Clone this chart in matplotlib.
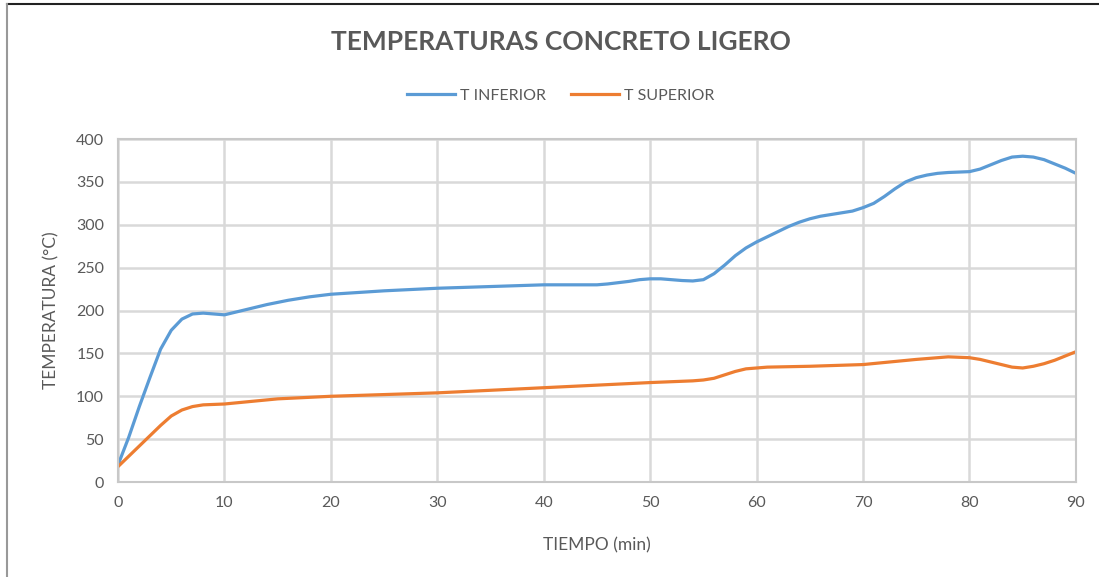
import matplotlib
matplotlib.use("Agg")
import matplotlib.pyplot as plt
from matplotlib.lines import Line2D

# T INFERIOR readings (min, °C)
t_inf = [0, 1, 2, 3, 4, 5, 6, 7, 8, 9, 10, 12, 14, 16, 18, 20, 25, 30, 35, 40,
         45, 46, 47, 48, 49, 50, 51, 52, 53, 54, 55, 56, 57, 58, 59, 60, 61, 62,
         63, 64, 65, 66, 67, 68, 69, 70, 71, 72, 73, 74, 75, 76, 77, 78, 79, 80,
         81, 82, 83, 84, 85, 86, 87, 88, 89, 90]
temp_inf = [20, 52, 88, 122, 155, 177, 190, 196, 197, 196, 195, 201, 207, 212,
            216, 219, 223, 226, 228, 230, 230, 231, 232.5, 234, 236, 237, 237,
            236, 235, 234.5, 236, 243, 253, 264, 273, 280, 286, 292, 298, 303,
            307, 310, 312, 314, 316, 320, 325, 333, 342, 350, 355, 358, 360, 361,
            361.5, 362, 365, 370, 375, 379, 380, 379, 376, 371, 366, 360]

# T SUPERIOR readings (min, °C)
t_sup = [0, 1, 2, 3, 4, 5, 6, 7, 8, 10, 15, 20, 25, 30, 35, 40, 45, 50, 54, 55,
         56, 57, 58, 59, 60, 61, 65, 70, 75, 78, 80, 81, 82, 83, 84, 85, 86, 87,
         88, 89, 90]
temp_sup = [18, 30, 42, 54, 66, 77, 84, 88, 90, 91, 97, 100, 102, 104, 107, 110,
            113, 116, 118, 119, 121, 125, 129, 132, 133, 134, 135, 137, 143, 146,
            145, 143, 140, 137, 134, 133, 135, 138, 142, 147, 152]

x_ticks = list(range(0, 91, 10))
y_ticks = list(range(0, 401, 50))

txt = '#595959'
plt.rcParams['font.family'] = ['Lato', 'DejaVu Sans']

fig = plt.figure(figsize=(10.99, 5.77), dpi=100)
ax = fig.add_axes([0.1074, 0.1646, 0.8716, 0.5944])

ax.plot(t_inf, temp_inf, color='#5b9bd5', lw=2.3, label='T INFERIOR',
        solid_joinstyle='round')
ax.plot(t_sup, temp_sup, color='#ed7d31', lw=2.3, label='T SUPERIOR',
        solid_joinstyle='round')

ax.set_xlim(0, 90)
ax.set_ylim(0, 400)
ax.set_xticks(x_ticks)
ax.set_yticks(y_ticks)
ax.grid(True, color='#d9d9d9', lw=1.8)
ax.set_axisbelow(True)
ax.tick_params(length=0, colors=txt, labelsize=11.5, pad=10)
for s in ax.spines.values():
    s.set_color('#c8c8c8')
    s.set_linewidth(1.5)

ax.set_xlabel('TIEMPO (min)', color=txt, fontsize=12.5, labelpad=20)
ax.set_ylabel('TEMPERATURA (°C)', color=txt, fontsize=12.5, labelpad=12)

fig.text(0.51, 0.927, 'TEMPERATURAS CONCRETO LIGERO', ha='center', va='center',
         fontsize=19, fontweight='bold', color=txt)
fig.legend(loc='center', bbox_to_anchor=(0.51, 0.834), ncol=2, frameon=False,
           fontsize=11.5, labelcolor=txt, handlelength=3.0, columnspacing=1.6,
           handletextpad=0.3)

# frame lines of the original screenshot
fig.add_artist(Line2D([7 / 1099, 1], [1 - 4 / 577, 1 - 4 / 577],
                      transform=fig.transFigure, color='#222222', lw=1.5))
fig.add_artist(Line2D([7 / 1099, 7 / 1099], [0, 1 - 4 / 577],
                      transform=fig.transFigure, color='#999999', lw=1.5))

fig.savefig('out.png', dpi=100, facecolor='white')
